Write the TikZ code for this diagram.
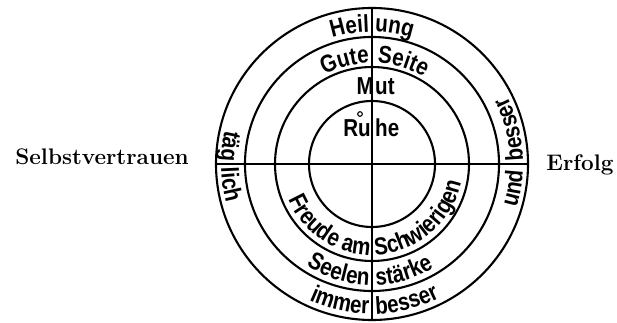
\documentclass[tikz,border=0pt]{standalone}
\usepackage{fontspec}
\usepackage{tikz}
\usetikzlibrary{calc, decorations.text}
\newfontfamily\ringfont[FakeStretch=0.84]{Liberation Sans}

\begin{document}
\begin{tikzpicture}[
        x=1pt, y=1pt,
        ring/.style={draw, line width=2.1pt},
        sidelabel/.style={font=\fontsize{22.5}{27}\selectfont\bfseries, inner sep=0pt},
        ringword/.style={font=\ringfont\bfseries\fontsize{24.5}{28}\selectfont, inner sep=0pt},
        lettering/.style 2 args={decorate, decoration={text along path, text align=#1,
            text={|\ringfont\bfseries\fontsize{24.5}{28}\selectfont|#2}}}
    ]
        \useasboundingbox (0,0) rectangle (617,323);
        \coordinate (C) at (372,159);

        % Circles and cross
        \foreach \r in {156,127,97,63}
            \draw[ring] (C) circle[radius=\r pt];
        \draw[ring] ([yshift=156pt]C) -- ([yshift=-156pt]C);
        \draw[ring] ([xshift=-156pt]C) -- ([xshift=156pt]C);
        \draw[line width=1.1pt] (360,209) circle[radius=2.3pt];

        % Side labels
        \node[sidelabel, anchor=base] (selbst) at (102,158) {Selbstvertrauen};
        \node[sidelabel, anchor=base] (erfolg) at (580,152) {Erfolg};

        % Inner words
        \node[ringword, anchor=base east] (ru) at (371,186) {Ru};
        \node[ringword, anchor=base west] (he) at (375,186) {he};
        \node[ringword, anchor=base east] (m) at (374,228) {M};
        \node[ringword, anchor=base west] (ut) at (375,228) {ut};

        % Top arcs (clockwise)
        \path[lettering={right}{Heil}] ([shift={(135:132pt)}]C) arc[start angle=135, end angle=91.2, radius=132pt];
        \path[lettering={left}{ung}] ([shift={(88.8:132pt)}]C) arc[start angle=88.8, end angle=45, radius=132pt];
        \path[lettering={right}{Gute}] ([shift={(150:101pt)}]C) arc[start angle=150, end angle=91.5, radius=101pt];
        \path[lettering={left}{Seite}] ([shift={(87:101pt)}]C) arc[start angle=87, end angle=25, radius=101pt];

        % Side arcs (counterclockwise)
        \path[lettering={right}{täg}] ([shift={(140:151pt)}]C) arc[start angle=140, end angle=178.8, radius=151pt];
        \path[lettering={left}{lich}] ([shift={(181.5:151pt)}]C) arc[start angle=181.5, end angle=220, radius=151pt];
        \path[lettering={right}{und}] ([shift={(-40:151pt)}]C) arc[start angle=-40, end angle=-2.5, radius=151pt];
        \path[lettering={left}{besser}] ([shift={(1.5:151pt)}]C) arc[start angle=1.5, end angle=40, radius=151pt];

        % Bottom arcs (counterclockwise)
        \path[lettering={right}{immer}] ([shift={(215:150pt)}]C) arc[start angle=215, end angle=268.8, radius=150pt];
        \path[lettering={left}{besser}] ([shift={(271.5:150pt)}]C) arc[start angle=271.5, end angle=325, radius=150pt];
        \path[lettering={right}{Seelen}] ([shift={(205:121pt)}]C) arc[start angle=205, end angle=268.5, radius=121pt];
        \path[lettering={left}{stärke}] ([shift={(272:121pt)}]C) arc[start angle=272, end angle=335, radius=121pt];
        \path[lettering={right}{Freude am}] ([shift={(170:91pt)}]C) arc[start angle=170, end angle=268.5, radius=91pt];
        \path[lettering={left}{Schwierigen}] ([shift={(272:91pt)}]C) arc[start angle=272, end angle=375, radius=91pt];
    \end{tikzpicture}
\end{document}
